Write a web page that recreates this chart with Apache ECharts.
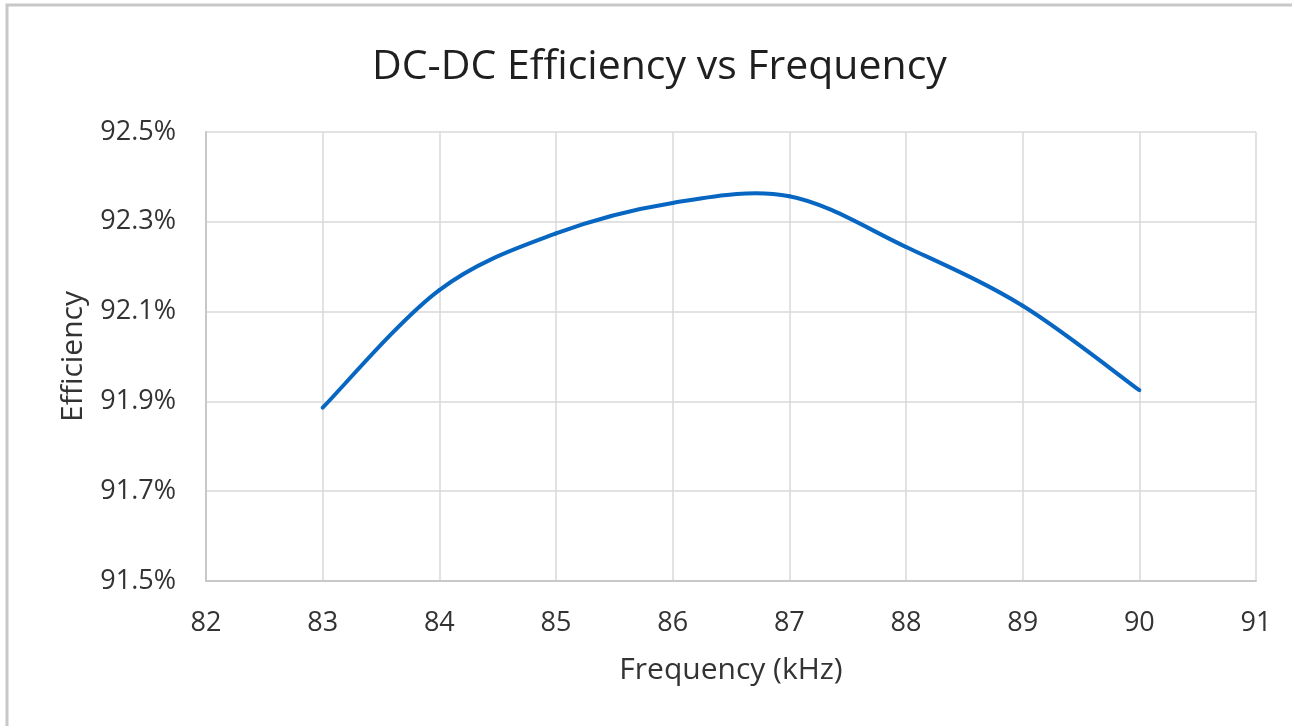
<!DOCTYPE html>
<html>
<head>
<meta charset="utf-8">
<script src="https://cdn.jsdelivr.net/npm/echarts@6/dist/echarts.min.js"></script>
<style>
html,body{margin:0;padding:0;background:#fff;}
#chart{width:1292px;height:726px;}
</style>
</head>
<body>
<div id="chart"></div>
<script>
const frequencies = [83, 84, 85, 86, 87, 88, 89, 90];
const efficiency = [91.886, 92.148, 92.274, 92.342, 92.357, 92.244, 92.113, 91.925];
const titleText = 'DC-DC Efficiency vs Frequency';
const xAxisName = 'Frequency (kHz)';
const yAxisName = 'Efficiency';

const font = '"Open Sans", "Noto Sans", sans-serif';
const lineColor = '#0666c2';

// Excel-like smoothed line (Catmull-Rom style Bezier) through points mapped by the axes
function renderSmoothLine(params, api) {
  if (params.dataIndex !== 0) return null;
  const pts = frequencies.map((f, i) => api.coord([f, efficiency[i]]));
  const n = pts.length;
  const children = [];
  for (let i = 0; i < n - 1; i++) {
    const p0 = pts[Math.max(i - 1, 0)];
    const p1 = pts[i];
    const p2 = pts[i + 1];
    const p3 = pts[Math.min(i + 2, n - 1)];
    children.push({
      type: 'bezierCurve',
      shape: {
        x1: p1[0], y1: p1[1],
        cpx1: p1[0] + (p2[0] - p0[0]) / 6, cpy1: p1[1] + (p2[1] - p0[1]) / 6,
        cpx2: p2[0] - (p3[0] - p1[0]) / 6, cpy2: p2[1] - (p3[1] - p1[1]) / 6,
        x2: p2[0], y2: p2[1]
      },
      style: {fill: 'none', stroke: lineColor, lineWidth: 4, lineCap: 'round', lineJoin: 'round'}
    });
  }
  return {type: 'group', children: children};
}

const chart = echarts.init(document.getElementById('chart'), null, {renderer: 'canvas'});
chart.setOption({
  animation: false,
  backgroundColor: '#ffffff',
  graphic: [{
    type: 'rect',
    shape: {x: 7, y: 5, width: 1400, height: 800},
    style: {fill: 'none', stroke: '#c8c8c8', lineWidth: 3},
    silent: true
  }],
  title: {
    text: titleText,
    left: 367,
    top: 42,
    textStyle: {fontFamily: font, fontSize: 41, fontWeight: 'normal', color: '#1f1f1f'}
  },
  grid: {left: 206, right: 36, top: 132, bottom: 145, containLabel: false},
  xAxis: {
    type: 'value',
    min: 82, max: 91, interval: 1,
    name: xAxisName,
    nameLocation: 'middle',
    nameGap: 74,
    nameTextStyle: {fontFamily: font, fontSize: 30, color: '#333'},
    axisLine: {show: true, lineStyle: {color: '#c8c8c8', width: 2}},
    axisTick: {show: false},
    axisLabel: {fontFamily: font, fontSize: 27, color: '#333', margin: 29},
    splitLine: {show: true, lineStyle: {color: '#d9d9d9', width: 1.5}}
  },
  yAxis: {
    type: 'value',
    min: 91.5, max: 92.5, interval: 0.2,
    name: yAxisName,
    nameLocation: 'middle',
    nameGap: 118,
    nameRotate: 90,
    nameTextStyle: {fontFamily: font, fontSize: 30, color: '#333'},
    axisLine: {show: true, lineStyle: {color: '#c8c8c8', width: 2}},
    axisTick: {show: false},
    axisLabel: {
      fontFamily: font, fontSize: 27, color: '#333', margin: 30,
      formatter: v => v.toFixed(1) + '%'
    },
    splitLine: {show: true, lineStyle: {color: '#d9d9d9', width: 1.5}}
  },
  series: [{
    type: 'custom',
    coordinateSystem: 'cartesian2d',
    data: frequencies.map((f, i) => [f, efficiency[i]]),
    renderItem: renderSmoothLine
  }]
});
</script>
</body>
</html>
